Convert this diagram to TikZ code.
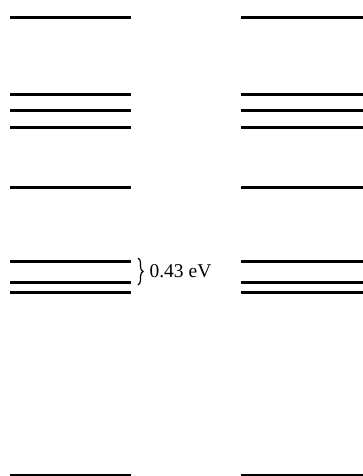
\documentclass[tikz,border=0pt]{standalone}
\usepackage{fontspec}
\setmainfont{Liberation Serif}
\usetikzlibrary{decorations.pathreplacing}
\begin{document}
\begin{tikzpicture}[x=1pt,y=-1pt,
    level/.style={line width=3pt},
    gap/.style={decorate, decoration={brace, amplitude=5pt}, line width=1.2pt}]
  \useasboundingbox (0,0) rectangle (363,476);
  % left and right level columns
  \foreach \y in {18,95,111,127,187,261,282,292,475} {
    \draw[level] (10,\y) -- (131,\y);
    \draw[level] (241,\y) -- (363,\y);
  }
  % splitting of the lower pair
  \draw[gap] (138,258) -- (138,285)
    node[midway, right=11pt, inner sep=0pt, font=\fontsize{19.5}{22}\selectfont] (split) {0.43 eV};
\end{tikzpicture}
\end{document}
